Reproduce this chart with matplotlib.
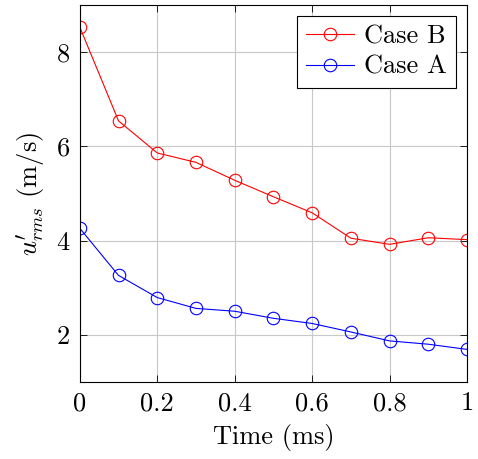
import numpy as np
import matplotlib.pyplot as plt

plt.rcParams['font.family'] = 'serif'
plt.rcParams['font.serif'] = ['cmr10', 'DejaVu Serif']
plt.rcParams['mathtext.fontset'] = 'cm'
plt.rcParams['axes.formatter.use_mathtext'] = True

# 데이터
time = [0.0, 0.1, 0.2, 0.3, 0.4, 0.5, 0.6, 0.7, 0.8, 0.9, 1.0]
case_b = [8.53, 6.54, 5.86, 5.66, 5.28, 4.93, 4.59, 4.05, 3.92, 4.06, 4.02]
case_a = [4.26, 3.26, 2.79, 2.56, 2.50, 2.35, 2.24, 2.06, 1.87, 1.80, 1.69]

x_ticks = [0, 0.2, 0.4, 0.6, 0.8, 1]
x_labels = ['0', '0.2', '0.4', '0.6', '0.8', '1']
y_ticks = [2, 4, 6, 8]

fig = plt.figure(figsize=(4.78, 4.59), dpi=100)
ax = fig.add_axes([0.167, 0.168, 0.810, 0.821])

ax.plot(time, case_b, color='red', marker='o', markerfacecolor='none',
        markersize=9, linewidth=0.8, markeredgewidth=0.8, label='Case B')
ax.plot(time, case_a, color='blue', marker='o', markerfacecolor='none',
        markersize=9, linewidth=0.8, markeredgewidth=0.8, label='Case A')

ax.set_xlim(0, 1)
ax.set_ylim(1.0, 9.0)
ax.set_xticks(x_ticks)
ax.set_xticklabels(x_labels)
ax.set_yticks(y_ticks)
ax.tick_params(direction='in', top=True, right=True, length=5, width=0.6,
               labelsize=19, pad=7)
ax.grid(True, color='#c8c8c8', linewidth=0.8)
ax.set_axisbelow(True)
for s in ax.spines.values():
    s.set_linewidth(0.8)

ax.set_xlabel('Time (ms)', fontsize=19, labelpad=6)
ax.set_ylabel(r"$u^{\prime}_{rms}$ (m/s)", fontsize=19, labelpad=6)

leg = ax.legend(loc='upper right', fontsize=19, fancybox=False, framealpha=1,
                edgecolor='black', borderaxespad=0.4, handlelength=1.8,
                handletextpad=0.4, borderpad=0.35, labelspacing=0.25)
leg.get_frame().set_linewidth(0.8)

fig.savefig('out.png', dpi=100)
